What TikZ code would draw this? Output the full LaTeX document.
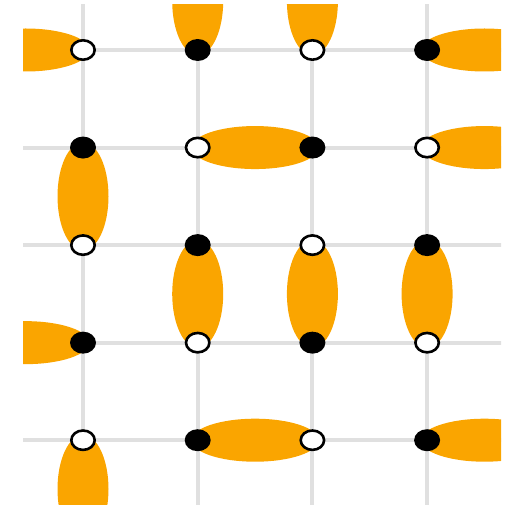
\documentclass[tikz,border=0pt]{standalone}
\usetikzlibrary{shapes.geometric,calc}
\definecolor{dimer}{RGB}{250,165,0}
\definecolor{gridgray}{RGB}{224,224,224}
\begin{document}
\begin{tikzpicture}[x=1bp,y=-1bp,
  hdim/.style={ellipse, fill=dimer, inner sep=0pt, minimum width=127bp, minimum height=43bp},
  vdim/.style={ellipse, fill=dimer, inner sep=0pt, minimum width=51bp, minimum height=108bp},
  wdot/.style={ellipse, fill=white, draw=black, line width=2.6bp, inner sep=0pt, minimum width=23.4bp, minimum height=19.4bp},
  bdot/.style={ellipse, fill=black, inner sep=0pt, minimum width=26bp, minimum height=22bp},
  gridline/.style={draw=gridgray, line width=4bp}]
\useasboundingbox (0,0) rectangle (511,505);
\foreach \i in {0,...,5}
  \foreach \j in {0,...,6}
    \coordinate (p\i\j) at ({83+114.7*(\i-1)},{50+97.55*(\j-1)});
\begin{scope}
  \clip (23,5) rectangle (501,504);
  % grid lines
  \foreach \i in {1,...,4} \draw[gridline] (p\i0) -- (p\i6);
  \foreach \j in {1,...,5} \draw[gridline] (p0\j) -- (p5\j);
  % horizontal dimers
  \foreach \a/\b [count=\k] in {01/11, 41/51, 22/32, 42/52, 04/14, 25/35, 45/55}
    \node[hdim] (h\k) at ($(p\a)!0.5!(p\b)$) {};
  % vertical dimers
  \foreach \a/\b [count=\k] in {20/21, 30/31, 12/13, 23/24, 33/34, 43/44, 15/16}
    \node[vdim] (v\k) at ($(p\a)!0.5!(p\b)$) {};
\end{scope}
% sites
\foreach \p in {11,13,15,22,24,31,33,35,42,44}
  \node[wdot] (d\p) at (p\p) {};
\foreach \p in {12,14,21,23,25,32,34,41,43,45}
  \node[bdot] (d\p) at (p\p) {};
\end{tikzpicture}
\end{document}
